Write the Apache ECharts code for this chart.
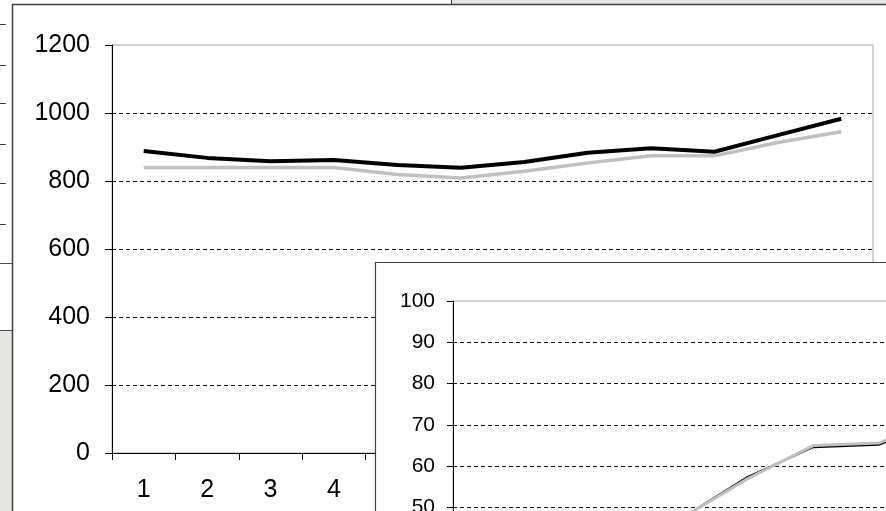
<!DOCTYPE html>
<html>
<head>
<meta charset="utf-8">
<script src="https://cdn.jsdelivr.net/npm/echarts@6/dist/echarts.min.js"></script>
<style>
html,body{margin:0;padding:0;background:#fff;overflow:hidden;}
#c{width:886px;height:511px;}
</style>
</head>
<body>
<div id="c"></div>
<script>
// ---- data ----
var categories = ['1','2','3','4','5','6','7','8','9','10','11','12'];
var mainBlack = [888, 868, 858, 862, 847, 839, 856, 883, 896, 886, 935, 983];
var mainGray  = [840, 840, 840, 840, 819, 809, 829, 853, 874, 874, 913, 945];
var mainTicks = [0, 200, 400, 600, 800, 1000, 1200];

var insetCategories = ['1','2','3','4','5','6','7','8','9','10','11','12'];
var insetBlack = [33, 37, 40, 47.5, 57.4, 64.6, 65.2, 71.5, 73, 74, 76, 78];
var insetGray  = [33, 37, 40, 47.5, 57.0, 65.0, 65.6, 72.0, 73.5, 74.5, 76.5, 78.5];
var insetTicks = [0, 10, 20, 30, 40, 50, 60, 70, 80, 90, 100];

var FONT = 'Liberation Sans, Arial, sans-serif';
function plain(v) { return String(v); }

var chart = echarts.init(document.getElementById('c'), null, {renderer: 'canvas'});

// decorative window frames (background layer)
var bgDashes = [24, 65, 103, 144, 183, 224].map(function (y) {
  return {type: 'line', zlevel: 0, shape: {x1: 0, y1: y + 0.5, x2: 6, y2: y + 0.5},
          style: {stroke: '#404040', lineWidth: 1}};
});

var graphics = [
  {type: 'rect', zlevel: 0, shape: {x: 0, y: 0, width: 886, height: 511}, style: {fill: '#ffffff'}},
  {type: 'rect', zlevel: 0, shape: {x: 452, y: 0, width: 434, height: 4}, style: {fill: '#e6e6e0'}},
  {type: 'line', zlevel: 0, shape: {x1: 451.5, y1: 0, x2: 451.5, y2: 5}, style: {stroke: '#404040', lineWidth: 1}},
  {type: 'rect', zlevel: 0, shape: {x: 0, y: 331, width: 12, height: 180}, style: {fill: '#e6e6e0'}},
  {type: 'line', zlevel: 0, shape: {x1: 0, y1: 263.5, x2: 12, y2: 263.5}, style: {stroke: '#505050', lineWidth: 1}},
  {type: 'line', zlevel: 0, shape: {x1: 0, y1: 330.5, x2: 12, y2: 330.5}, style: {stroke: '#505050', lineWidth: 1}},
  // main window
  {type: 'rect', zlevel: 0, shape: {x: 12.5, y: 4.5, width: 900, height: 600},
   style: {fill: '#ffffff', stroke: '#404040', lineWidth: 1.5}},
  // inset window (covers main chart)
  {type: 'rect', zlevel: 2, shape: {x: 375.5, y: 262.5, width: 600, height: 400},
   style: {fill: '#ffffff', stroke: '#404040', lineWidth: 1.2}}
].concat(bgDashes);

var option = {
  animation: false,
  backgroundColor: '#ffffff',
  graphic: {elements: graphics},
  grid: [
    {left: 112, top: 45, width: 761, height: 408, show: true, borderColor: '#a8a8a8', borderWidth: 1,
     backgroundColor: 'transparent', containLabel: false, outerBoundsMode: 'none', zlevel: 1},
    {left: 453, top: 301, width: 786, height: 413, show: true, borderColor: '#a8a8a8', borderWidth: 1,
     backgroundColor: 'transparent', containLabel: false, outerBoundsMode: 'none', zlevel: 3}
  ],
  xAxis: [
    {type: 'category', gridIndex: 0, data: categories, boundaryGap: true, zlevel: 1,
     axisLine: {show: true, lineStyle: {color: '#000', width: 1}},
     axisTick: {show: true, alignWithLabel: false, inside: false, length: 7, lineStyle: {color: '#000'}},
     axisLabel: {show: true, color: '#000', fontSize: 25, fontFamily: FONT, margin: 25, interval: 0},
     splitLine: {show: false}},
    {type: 'category', gridIndex: 1, data: insetCategories, boundaryGap: true, zlevel: 3,
     axisLine: {show: true, lineStyle: {color: '#000', width: 1}},
     axisTick: {show: true, alignWithLabel: false, length: 6, lineStyle: {color: '#000'}},
     axisLabel: {show: true, color: '#000', fontSize: 21, fontFamily: FONT, margin: 22, interval: 0},
     splitLine: {show: false}}
  ],
  yAxis: [
    {type: 'value', gridIndex: 0, min: mainTicks[0], max: mainTicks[mainTicks.length - 1], interval: 200, zlevel: 1,
     axisLine: {show: true, lineStyle: {color: '#000', width: 1}},
     axisTick: {show: true, inside: false, length: 7, lineStyle: {color: '#000'}},
     axisLabel: {show: true, color: '#000', fontSize: 25, fontFamily: FONT, margin: 22, formatter: plain},
     splitLine: {show: true, showMinLine: false, showMaxLine: false,
                 lineStyle: {color: '#111', width: 1, type: [4, 3]}}},
    {type: 'value', gridIndex: 1, min: insetTicks[0], max: insetTicks[insetTicks.length - 1], interval: 10, zlevel: 3,
     axisLine: {show: true, lineStyle: {color: '#000', width: 1}},
     axisTick: {show: true, inside: false, length: 6, lineStyle: {color: '#000'}},
     axisLabel: {show: true, color: '#000', fontSize: 21, fontFamily: FONT, margin: 18, formatter: plain},
     splitLine: {show: true, showMinLine: false, showMaxLine: false,
                 lineStyle: {color: '#111', width: 1, type: [4, 3]}}}
  ],
  series: [
    {type: 'line', xAxisIndex: 0, yAxisIndex: 0, data: mainGray, zlevel: 1, symbol: 'none',
     lineStyle: {color: '#c0c0c0', width: 3.5}},
    {type: 'line', xAxisIndex: 0, yAxisIndex: 0, data: mainBlack, zlevel: 1, symbol: 'none',
     lineStyle: {color: '#000000', width: 4}},
    {type: 'line', xAxisIndex: 1, yAxisIndex: 1, data: insetBlack, zlevel: 3, symbol: 'none',
     lineStyle: {color: '#000000', width: 2}},
    {type: 'line', xAxisIndex: 1, yAxisIndex: 1, data: insetGray, zlevel: 3, symbol: 'none',
     lineStyle: {color: '#c0c0c0', width: 3}}
  ]
};
chart.setOption(option);
</script>
</body>
</html>
